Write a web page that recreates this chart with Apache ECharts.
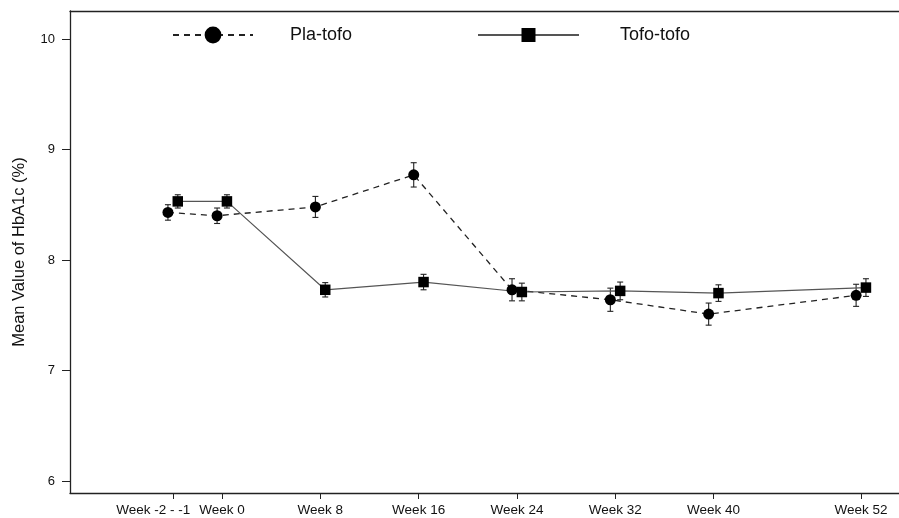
<!DOCTYPE html>
<html>
<head>
<meta charset="utf-8">
<script src="https://cdn.jsdelivr.net/npm/echarts@6/dist/echarts.min.js"></script>
<style>html,body{margin:0;padding:0;background:#fff;}#c{width:899px;height:518px;}</style>
</head>
<body>
<div id="c"></div>
<script>
// ---- data ----
const weeks = [-4, 0, 8, 16, 24, 32, 40, 52];
const weekLabels = ['Week -2 - -1', 'Week 0', 'Week 8', 'Week 16', 'Week 24', 'Week 32', 'Week 40', 'Week 52'];
const plaMean = [8.43, 8.40, 8.48, 8.77, 7.73, 7.64, 7.51, 7.68];
const plaErr  = [0.07, 0.07, 0.095, 0.11, 0.10, 0.105, 0.10, 0.10];
const tofoMean = [8.53, 8.53, 7.73, 7.80, 7.71, 7.72, 7.70, 7.75];
const tofoErr  = [0.06, 0.06, 0.065, 0.07, 0.08, 0.08, 0.075, 0.08];
const yTicks = [6, 7, 8, 9, 10];
const dodge = 0.4; // horizontal offset (weeks) between groups

const FONT = 'Liberation Sans, Arial, sans-serif';
const plaPts = weeks.map((w, i) => [w - dodge, plaMean[i]]);
const tofoPts = weeks.map((w, i) => [w + dodge, tofoMean[i]]);
const plaBars = weeks.map((w, i) => [w - dodge, plaMean[i] - plaErr[i], plaMean[i] + plaErr[i]]);
const tofoBars = weeks.map((w, i) => [w + dodge, tofoMean[i] - tofoErr[i], tofoMean[i] + tofoErr[i]]);

function errRender(params, api) {
  const x = api.value(0);
  const lo = api.coord([x, api.value(1)]);
  const hi = api.coord([x, api.value(2)]);
  const c = 3;
  const st = { stroke: '#222', lineWidth: 1.1 };
  return {
    type: 'group',
    children: [
      { type: 'line', shape: { x1: lo[0], y1: lo[1], x2: hi[0], y2: hi[1] }, style: st },
      { type: 'line', shape: { x1: lo[0] - c, y1: lo[1], x2: lo[0] + c, y2: lo[1] }, style: st },
      { type: 'line', shape: { x1: hi[0] - c, y1: hi[1], x2: hi[0] + c, y2: hi[1] }, style: st }
    ]
  };
}

const chart = echarts.init(document.getElementById('c'), null, { renderer: 'canvas' });
const xMin = -12.37, xMax = 55.09;
chart.setOption({
  animation: false,
  backgroundColor: '#fff',
  textStyle: { fontFamily: FONT },
  grid: { left: 70, right: 0, top: 11, bottom: 25, containLabel: false, outerBoundsMode: 'none' },
  legend: [
    {
      data: ['Pla-tofo'], left: 172, top: 26, padding: 0, itemWidth: 80, itemHeight: 21,
      textStyle: { fontSize: 18, color: '#111', fontFamily: FONT, padding: [0, 0, 0, 32] }
    },
    {
      data: ['Tofo-tofo'], left: 477, top: 26, padding: 0, itemWidth: 101, itemHeight: 17.5,
      textStyle: { fontSize: 18, color: '#111', fontFamily: FONT, padding: [0, 0, 0, 36] }
    }
  ],
  xAxis: [
    {
      type: 'value', min: xMin, max: xMax, position: 'bottom',
      axisLine: { show: true, onZero: false, lineStyle: { color: '#222', width: 1.3 } },
      axisTick: { show: true, customValues: weeks, length: 6, lineStyle: { color: '#222' } },
      axisLabel: {
        customValues: weeks, margin: 10, fontSize: 13.5, color: '#111', fontFamily: FONT,
        hideOverlap: false, showMinLabel: true, showMaxLabel: true,
        formatter: v => {
          const i = weeks.indexOf(v);
          if (i < 0) return '';
          return i === 0 ? '{s|' + weekLabels[i] + '}' : weekLabels[i];
        },
        rich: { s: { fontSize: 13.5, color: '#111', fontFamily: FONT, padding: [0, 39, 0, 0] } }
      },
      splitLine: { show: false }
    },
    {
      type: 'value', min: xMin, max: xMax, position: 'top',
      axisLine: { show: true, onZero: false, lineStyle: { color: '#222', width: 1.3 } },
      axisTick: { show: false }, axisLabel: { show: false }, splitLine: { show: false }
    }
  ],
  yAxis: {
    type: 'value', min: 5.891, max: 10.253,
    name: 'Mean Value of HbA1c (%)', nameLocation: 'middle', nameGap: 42,
    nameTextStyle: { fontSize: 16.5, color: '#111', fontFamily: FONT },
    axisLine: { show: true, onZero: false, lineStyle: { color: '#222', width: 1.3 } },
    axisTick: { show: true, customValues: yTicks, length: 8, lineStyle: { color: '#222' } },
    axisLabel: { customValues: yTicks, margin: 15, fontSize: 13, color: '#111', fontFamily: FONT },
    splitLine: { show: false }
  },
  series: [
    {
      name: 'Pla-tofo', type: 'line', data: plaPts, symbol: 'circle', symbolSize: 11,
      itemStyle: { color: '#000' },
      lineStyle: { color: '#222', width: 1.3, type: [6, 5] }, z: 3
    },
    {
      name: 'Tofo-tofo', type: 'line', data: tofoPts, symbol: 'rect', symbolSize: 10.5,
      itemStyle: { color: '#000' },
      lineStyle: { color: '#555', width: 1.2, type: 'solid' }, z: 3
    },
    { type: 'custom', renderItem: errRender, data: plaBars, z: 2, silent: true },
    { type: 'custom', renderItem: errRender, data: tofoBars, z: 2, silent: true }
  ]
});
</script>
</body>
</html>
